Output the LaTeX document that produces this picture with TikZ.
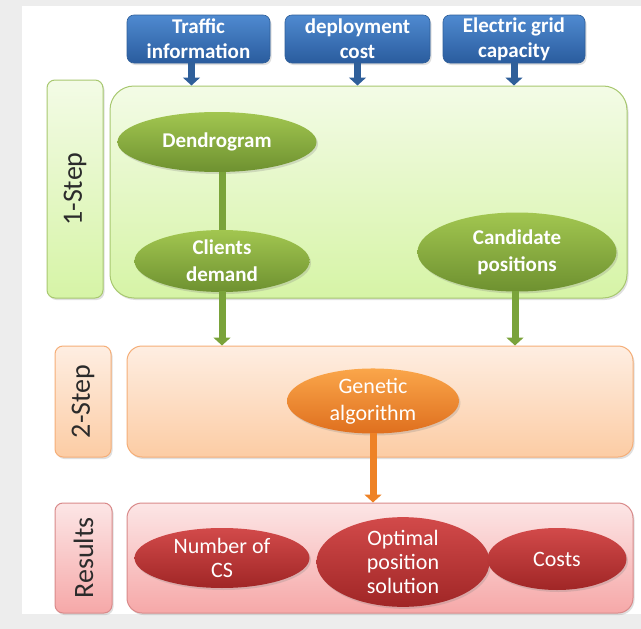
\documentclass[tikz,border=0pt]{standalone}
\usepackage{fontspec}
\setmainfont{Carlito}
\usetikzlibrary{shapes.geometric,arrows.meta,shadows}

\definecolor{inTop}{HTML}{4F8AD0}
\definecolor{inBot}{HTML}{2A5C9E}
\definecolor{inLine}{HTML}{2F5F9A}
\definecolor{grLine}{HTML}{A8C870}
\definecolor{grTop}{HTML}{F3FBE6}
\definecolor{grBot}{HTML}{D6F4A6}
\definecolor{grElTop}{HTML}{A2C650}
\definecolor{grElBot}{HTML}{6E9130}
\definecolor{grArrow}{HTML}{7AA33A}
\definecolor{orLine}{HTML}{F5AE78}
\definecolor{orTop}{HTML}{FEEEE2}
\definecolor{orBot}{HTML}{FCCCA4}
\definecolor{orElTop}{HTML}{FAA64A}
\definecolor{orElBot}{HTML}{DF6F1E}
\definecolor{orArrow}{HTML}{EE8226}
\definecolor{rdLine}{HTML}{D98A8A}
\definecolor{rdTop}{HTML}{FCE6E6}
\definecolor{rdBot}{HTML}{F6A8A8}
\definecolor{rdElTop}{HTML}{D24A4A}
\definecolor{rdElBot}{HTML}{A02626}
\definecolor{labText}{HTML}{2B2B2B}

\tikzset{
  soft/.style={drop shadow={opacity=0.25,shadow xshift=1.5pt,shadow yshift=-2pt}},
  inbox/.style={rounded corners=7pt, draw=inLine, line width=0.6pt,
    top color=inTop, bottom color=inBot, text=white, soft,
    font=\bfseries\fontsize{21}{25}\selectfont, align=center,
    minimum height=48pt, inner sep=0pt},
  stagebox/.style={line width=1pt, soft, inner sep=0pt},
  labbox/.style={rounded corners=8pt, line width=1pt, soft, rotate=90,
    text=labText, font=\fontsize{28}{30}\selectfont, inner sep=0pt},
  oval/.style={ellipse, inner sep=0pt, text=white, align=center, soft,
    font=\fontsize{22}{24}\selectfont},
  greenoval/.style={oval, top color=grElTop, bottom color=grElBot,
    font=\bfseries\fontsize{21}{27}\selectfont},
  orangeoval/.style={oval, top color=orElTop, bottom color=orElBot,
    font=\fontsize{22}{27}\selectfont},
  redoval/.style={oval, top color=rdElTop, bottom color=rdElBot},
  fatarrow/.style={line width=7pt, -{Triangle[width=17pt,length=8pt]}, shorten <=-1pt}
}

\begin{document}
\begin{tikzpicture}[x=1pt,y=-1pt]
  % page and backdrop
  \useasboundingbox (0,0) rectangle (641,629);
  \fill[black!7] (0,0) rectangle (641,629);
  \fill[white] (22,6) rectangle (641,614);

  % inputs
  \node[inbox, minimum width=143pt] (traffic) at (198.5,39) {Traffic\\information};
  \node[inbox, minimum width=145pt] (deploy)  at (357.5,39) {deployment\\cost};
  \node[inbox, minimum width=142pt] (grid)    at (514,39) {Electric grid\\capacity};

  % step 1
  \node[labbox, draw=grLine, top color=grTop, bottom color=grBot,
        minimum width=218pt, minimum height=56pt] (lab1) at (75,189) {1-Step};
  \node[stagebox, rounded corners=24pt, draw=grLine, top color=grTop, bottom color=grBot,
        minimum width=517pt, minimum height=212pt] (s1) at (368.5,192) {};

  % step 2
  \node[labbox, draw=orLine, top color=orTop, bottom color=orBot,
        minimum width=111pt, minimum height=56pt] (lab2) at (83,401.5) {2-Step};
  \node[stagebox, rounded corners=15pt, draw=orLine, top color=orTop, bottom color=orBot,
        minimum width=506pt, minimum height=111pt] (s2) at (380,401.5) {};

  % results
  \node[labbox, draw=rdLine, top color=rdTop, bottom color=rdBot,
        minimum width=110pt, minimum height=57pt] (lab3) at (83.5,558) {Results};
  \node[stagebox, rounded corners=15pt, draw=rdLine, top color=rdTop, bottom color=rdBot,
        minimum width=506pt, minimum height=110pt] (s3) at (380,558) {};

  % step 1 contents
  \node[greenoval, minimum width=199pt, minimum height=60pt] (dendro) at (217,142) {Dendrogram};
  \node[greenoval, minimum width=175pt, minimum height=62pt] (clients) at (222,261) {Clients\\demand};
  \node[greenoval, minimum width=199pt, minimum height=79pt] (cand) at (517,252) {Candidate\\positions};
  \draw[grArrow, line width=7pt] (dendro.south -| clients.north) -- (clients.north);

  % step 2 contents
  \node[orangeoval, minimum width=172pt, minimum height=62pt] (ga) at (373,401) {Genetic\\algorithm};

  % result contents
  \node[redoval, minimum width=175pt, minimum height=60pt] (ncs) at (222,558) {Number of\\CS};
  \node[redoval, minimum width=173pt, minimum height=89pt] (opt) at (403,562) {Optimal\\position\\solution};
  \node[redoval, minimum width=139pt, minimum height=62pt] (costs) at (557,559) {Costs};

  % flow arrows
  \draw[fatarrow, inLine] ([xshift=-7pt]traffic.south) -- ([xshift=-7pt]traffic.south |- s1.north);
  \draw[fatarrow, inLine] (deploy.south) -- (deploy.south |- s1.north);
  \draw[fatarrow, inLine] (grid.south) -- (grid.south |- s1.north);
  \draw[fatarrow, grArrow] (clients.south) -- (clients.south |- s2.north);
  \draw[fatarrow, grArrow] ([xshift=-2pt]cand.south) -- ([xshift=-2pt]cand.south |- s2.north);
  \draw[fatarrow, orArrow] (ga.south) -- (ga.south |- s3.north);
\end{tikzpicture}
\end{document}
